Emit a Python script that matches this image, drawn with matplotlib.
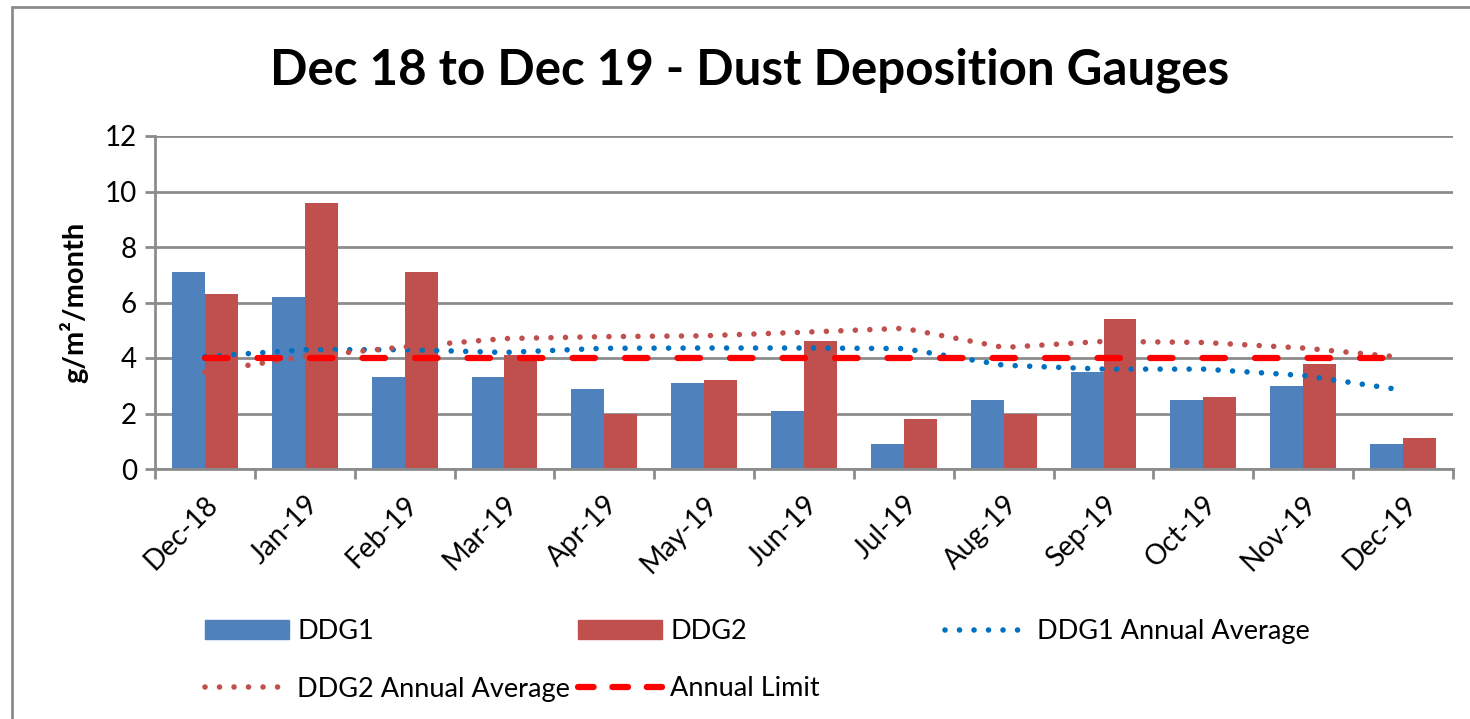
import matplotlib
matplotlib.use('Agg')
import matplotlib.pyplot as plt
import matplotlib.transforms as mtransforms
import numpy as np
from matplotlib.lines import Line2D
from matplotlib.patches import Patch, Rectangle

plt.rcParams['font.family'] = ['Lato', 'DejaVu Sans']

# Data
months = ['Dec-18', 'Jan-19', 'Feb-19', 'Mar-19', 'Apr-19', 'May-19', 'Jun-19',
          'Jul-19', 'Aug-19', 'Sep-19', 'Oct-19', 'Nov-19', 'Dec-19']
ddg1 = [7.1, 6.2, 3.3, 3.3, 2.9, 3.1, 2.1, 0.9, 2.5, 3.5, 2.5, 3.0, 0.9]
ddg2 = [6.3, 9.6, 7.1, 4.1, 2.0, 3.2, 4.6, 1.8, 2.0, 5.4, 2.6, 3.8, 1.1]
ddg1_avg = [4.05, 4.3, 4.3, 4.2, 4.35, 4.36, 4.36, 4.34, 3.74, 3.6, 3.6, 3.37, 2.84]
ddg2_avg = [3.5, 4.05, 4.4, 4.7, 4.77, 4.8, 4.93, 5.07, 4.38, 4.6, 4.56, 4.36, 4.02]
annual_limit = [4] * 13

c_ddg1 = '#4F81BD'
c_ddg2 = '#C0504D'
c_avg1 = '#0070C0'
c_limit = '#FF0000'
c_grid = '#8C8C8C'

fig = plt.figure(figsize=(14.7, 7.19), dpi=100)
ax = fig.add_axes([155 / 1470, 1 - 469 / 719, (1453 - 155) / 1470, (469 - 136) / 719])

x = np.arange(len(months))
w = 0.33
ax.bar(x - w / 2, ddg1, w, color=c_ddg1, zorder=2)
ax.bar(x + w / 2, ddg2, w, color=c_ddg2, zorder=2)

dot = dict(linestyle=(0, (0.01, 2.6)), dash_capstyle='round', linewidth=4, zorder=3)
ax.plot(x, ddg1_avg, color=c_avg1, **dot)
ax.plot(x, ddg2_avg, color=c_ddg2, **dot)
ax.plot(x, annual_limit, color=c_limit, linewidth=4.5, linestyle=(0, (3.6, 4.8)),
        dash_capstyle='round', zorder=4)

ax.set_xlim(-0.5, 12.5)
ax.set_ylim(0, 12)
ax.set_yticks(range(0, 13, 2))
ax.yaxis.grid(True, color=c_grid, linewidth=2)
ax.set_axisbelow(True)

ax.set_xticks(x)
ax.set_xticklabels(months, rotation=45, ha='right', rotation_mode='anchor', fontsize=20)
shift = mtransforms.ScaledTranslation(12 / 100, 0, fig.dpi_scale_trans)
for lbl in ax.get_xticklabels():
    lbl.set_transform(lbl.get_transform() + shift)
ax.set_xticks(np.arange(-0.5, 13, 1), minor=True)
ax.tick_params(axis='x', which='major', length=0, pad=16)
ax.tick_params(axis='x', which='minor', length=7, width=2, color=c_grid)
ax.tick_params(axis='y', length=7, width=2, color=c_grid, labelsize=20, pad=6)

for s in ['top', 'right']:
    ax.spines[s].set_visible(False)
for s in ['left', 'bottom']:
    ax.spines[s].set_color(c_grid)
    ax.spines[s].set_linewidth(2)

ax.set_ylabel('g/m²/month', fontsize=21, fontweight='bold', labelpad=12)

fig.text(750 / 1470, 1 - 70 / 719, 'Dec 18 to Dec 19 - Dust Deposition Gauges',
         ha='center', va='center', fontsize=35.5, fontweight='bold')

# legend, laid out in three columns like the original
h_ddg1 = Patch(color=c_ddg1, label='DDG1')
h_ddg2 = Patch(color=c_ddg2, label='DDG2')
h_avg1 = Line2D([], [], color=c_avg1, label='DDG1 Annual Average', **dot)
h_avg2 = Line2D([], [], color=c_ddg2, label='DDG2 Annual Average', **dot)
h_lim = Line2D([], [], color=c_limit, linewidth=4.5, linestyle=(0, (2.5, 3.0)),
               dash_capstyle='round', label='Annual Limit')

leg_kw = dict(frameon=False, fontsize=19.5, handlelength=3.1, handleheight=0.7,
              handletextpad=0.3, labelspacing=1.2, borderpad=0, borderaxespad=0,
              loc='upper left')
for handles, xpos in [([h_ddg1, h_avg2], 205), ([h_ddg2, h_lim], 578), ([h_avg1], 945)]:
    fig.legend(handles=handles, bbox_to_anchor=(xpos / 1470, 1 - 619 / 719), **leg_kw)

# chart border
fig.add_artist(Rectangle((12 / 1470, -0.01), 1.02, 1 - 7 / 719 + 0.01, transform=fig.transFigure,
                         fill=False, edgecolor='#8C8C8C', linewidth=2))

fig.savefig('out.png', dpi=100)
